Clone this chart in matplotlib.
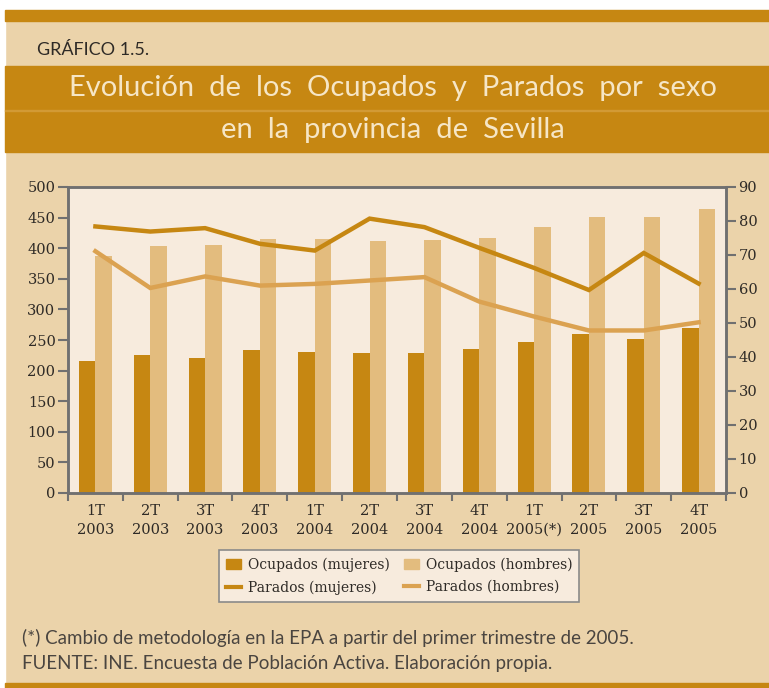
import numpy as np
import matplotlib
matplotlib.use("Agg")
from matplotlib import pyplot as plt
from matplotlib.patches import Rectangle, Patch
from matplotlib.lines import Line2D

# trimestres
quarters = ["1T\n2003", "2T\n2003", "3T\n2003", "4T\n2003",
            "1T\n2004", "2T\n2004", "3T\n2004", "4T\n2004",
            "1T\n2005(*)", "2T\n2005", "3T\n2005", "4T\n2005"]

# ocupados (miles) - eje izquierdo
ocupados_mujeres = [215, 225, 220, 233, 231, 228, 228, 236, 247, 260, 252, 270]
ocupados_hombres = [388, 404, 406, 415, 415, 412, 414, 417, 435, 451, 451, 464]

# parados (miles) - eje derecho
parados_mujeres = [78.4, 76.9, 77.9, 73.3, 71.3, 80.7, 78.2, 72.1, 66.2, 59.7, 70.6, 61.6]
parados_hombres = [71.1, 60.3, 63.7, 61.0, 61.5, 62.5, 63.5, 56.3, 51.9, 47.8, 47.8, 50.2]

c_dark = "#C68712"
c_light = "#E3BC7E"
c_line_light = "#DBA251"
c_bg = "#EBD3AA"
c_plot = "#F7EBDD"
c_axis = "#707070"
c_text = "#2E2A26"

W, H = 769, 688
fig = plt.figure(figsize=(W / 100, H / 100), dpi=100)
fig.patch.set_facecolor(c_bg)


def band(x0, y0, x1, y1, color):
    # rectangle in pixel coords (y from top)
    fig.patches.append(Rectangle((x0 / W, 1 - y1 / H), (x1 - x0) / W, (y1 - y0) / H,
                                 transform=fig.transFigure, color=color, zorder=0))


band(0, 0, W, 10, "white")
band(0, 0, 5, H, "white")
band(5, 10, W, 21, c_dark)
band(5, 66, W, 152, c_dark)
band(5, 109.5, W, 110.5, "#D29A35")
band(5, 683, W, H, c_dark)

fig.text(37 / W, 1 - 50 / H, "GRÁFICO 1.5.", fontsize=13, color=c_text,
         family="Lato", va="center", ha="left")
title_kw = dict(fontsize=21, color="#F6E6C6", family="Lato", fontweight="normal",
                ha="center", va="center")
fig.text(393 / W, 1 - 88 / H, "Evolución  de  los  Ocupados  y  Parados  por  sexo", **title_kw)
fig.text(393 / W, 1 - 130 / H, "en  la  provincia  de  Sevilla", **title_kw)

ax = fig.add_axes([68 / W, 1 - 493 / H, (726 - 68) / W, (493 - 187) / H])
ax.set_facecolor(c_plot)
x = np.arange(len(quarters))
bw = 0.3
ax.bar(x - bw / 2, ocupados_mujeres, bw, color=c_dark, zorder=2)
ax.bar(x + bw / 2, ocupados_hombres, bw, color=c_light, zorder=2)
ax.set_xlim(-0.5, len(quarters) - 0.5)
ax.set_ylim(0, 500)
ax.set_yticks(range(0, 501, 50))

ax.set_xticks(np.arange(-0.5, len(quarters)), labels=[])
ax.set_xticks(x, labels=quarters, minor=True)
ax.tick_params(axis="x", which="major", direction="out", length=6, width=1.5, color=c_axis)
ax.tick_params(axis="x", which="minor", length=0, pad=8)
ax.tick_params(axis="y", direction="out", length=7, width=1.5, color=c_axis, pad=2)

ax2 = ax.twinx()
ax2.plot(x, parados_mujeres, color=c_dark, lw=3.2, solid_joinstyle="miter", zorder=3)
ax2.plot(x, parados_hombres, color=c_line_light, lw=3.2, solid_joinstyle="miter", zorder=3)
ax2.set_ylim(0, 90)
ax2.set_yticks(range(0, 91, 10))
ax2.tick_params(axis="y", direction="out", length=7, width=1.5, color=c_axis, pad=2)

for a in (ax, ax2):
    for s in a.spines.values():
        s.set_color(c_axis)
        s.set_linewidth(1.8)
    for lab in a.get_xticklabels(which="both") + a.get_yticklabels():
        lab.set_family("DejaVu Serif")
        lab.set_fontsize(10.5)
        lab.set_color(c_text)
for lab in ax.get_xticklabels(minor=True):
    lab.set_linespacing(1.45)

handles = [Patch(color=c_dark), Line2D([], [], color=c_dark, lw=3),
           Patch(color=c_light), Line2D([], [], color=c_line_light, lw=3)]
names = ["Ocupados (mujeres)", "Parados (mujeres)",
         "Ocupados (hombres)", "Parados (hombres)"]
leg = fig.legend(handles, names, ncol=2, loc="center",
                 bbox_to_anchor=(399 / W, 1 - 576 / H),
                 prop={"family": "DejaVu Serif", "size": 10},
                 frameon=True, fancybox=False, facecolor=c_plot, edgecolor="#8A8A8A",
                 handlelength=1.1, handleheight=0.7, handletextpad=0.5,
                 columnspacing=1.0, labelspacing=0.6, borderpad=0.5)
leg.get_frame().set_linewidth(1.2)
leg.get_frame().set_alpha(1)
for t in leg.get_texts():
    t.set_color(c_text)

note_kw = dict(fontsize=13.5, color="#4A4540", family="Lato", fontweight="normal",
               ha="left", va="center")
fig.text(22 / W, 1 - 638 / H,
         "(*) Cambio de metodología en la EPA a partir del primer trimestre de 2005.", **note_kw)
fig.text(22 / W, 1 - 664 / H,
         "FUENTE: INE. Encuesta de Población Activa. Elaboración propia.", **note_kw)

fig.savefig("out.png", dpi=100, facecolor=fig.get_facecolor())
